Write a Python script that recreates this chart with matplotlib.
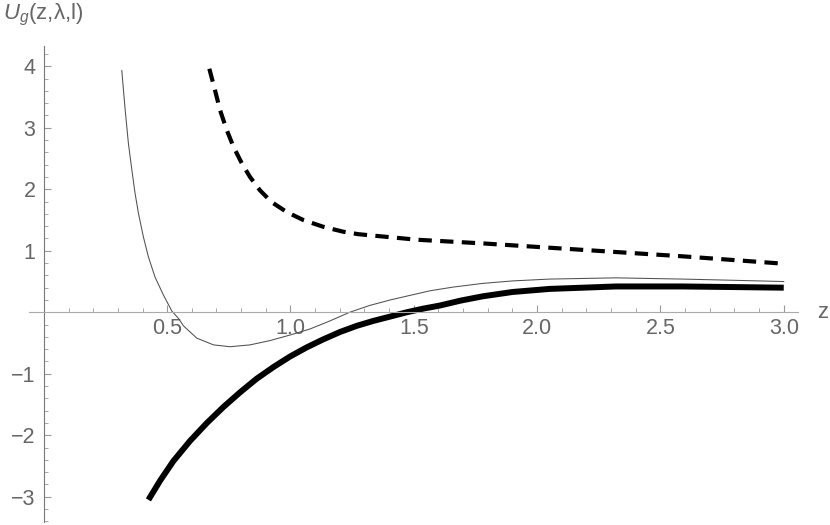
import numpy as np
import matplotlib.pyplot as plt
from matplotlib.ticker import FixedLocator, MultipleLocator

plt.rcParams['font.family'] = ['Liberation Sans', 'DejaVu Sans']
plt.rcParams['mathtext.fontset'] = 'custom'
plt.rcParams['mathtext.rm'] = 'Liberation Sans'
plt.rcParams['mathtext.it'] = 'Liberation Sans:italic'

# curves
z_thin = [0.316, 0.330, 0.343, 0.357, 0.370, 0.384, 0.404, 0.424, 0.451, 0.485,
          0.519, 0.546, 0.566, 0.62, 0.688, 0.755, 0.836, 0.917, 0.998, 1.08,
          1.16, 1.24, 1.32, 1.404, 1.49, 1.566, 1.66, 1.78, 1.9, 2.05, 2.32,
          2.59, 2.8, 3.0]
u_thin = [3.93, 3.28, 2.74, 2.31, 1.93, 1.60, 1.22, 0.90, 0.57, 0.28,
          0.02, -0.10, -0.22, -0.42, -0.53, -0.56, -0.53, -0.46, -0.37, -0.27,
          -0.14, 0.0, 0.11, 0.20, 0.28, 0.35, 0.41, 0.47, 0.51, 0.54, 0.56,
          0.54, 0.52, 0.50]

z_thick = [0.424, 0.471, 0.525, 0.593, 0.661, 0.728, 0.796, 0.863, 0.931,
           0.998, 1.066, 1.133, 1.201, 1.269, 1.336, 1.404, 1.471, 1.539,
           1.606, 1.69, 1.78, 1.9, 2.05, 2.32, 2.59, 2.8, 3.0]
u_thick = [-3.05, -2.74, -2.42, -2.09, -1.80, -1.54, -1.30, -1.08, -0.89,
           -0.72, -0.57, -0.44, -0.32, -0.22, -0.14, -0.07, 0.0, 0.06,
           0.11, 0.19, 0.26, 0.33, 0.38, 0.42, 0.42, 0.41, 0.40]

z_dash = [0.671, 0.694, 0.715, 0.742, 0.769, 0.803, 0.836, 0.877, 0.924,
          0.985, 1.052, 1.133, 1.214, 1.275, 1.512, 1.78, 2.05, 2.32, 2.59, 3.0]
u_dash = [3.96, 3.61, 3.28, 2.96, 2.69, 2.42, 2.20, 1.98, 1.79,
          1.63, 1.50, 1.39, 1.31, 1.27, 1.18, 1.12, 1.05, 0.98, 0.91, 0.79]

xticks = [0.5, 1.0, 1.5, 2.0, 2.5, 3.0]
yticks = [-3, -2, -1, 1, 2, 3, 4]

fig = plt.figure(figsize=(8.3, 5.25), dpi=100)
ax = fig.add_axes([0.035, 0.0057, 0.9265, 0.9067])

ax.plot(z_thin, u_thin, color='#505050', lw=0.75)
ax.plot(z_thick, u_thick, color='black', lw=4.3, solid_capstyle='butt',
        solid_joinstyle='round')
ax.plot(z_dash, u_dash, color='black', lw=3, dashes=(3.2, 2), dash_capstyle='butt')

ax.set_xlim(-0.06, 3.058)
ax.set_ylim(-3.41, 4.33)

for s in ['top', 'right']:
    ax.spines[s].set_visible(False)
ax.spines['left'].set_position(('data', 0))
ax.spines['bottom'].set_position(('data', 0))
ax.spines['left'].set_color('#777777')
ax.spines['bottom'].set_color('#aaaaaa')

ax.xaxis.set_major_locator(FixedLocator(xticks))
ax.yaxis.set_major_locator(FixedLocator(yticks))
ax.xaxis.set_minor_locator(MultipleLocator(0.1))
ax.yaxis.set_minor_locator(MultipleLocator(0.2))
ax.set_xticklabels(['%.1f' % t for t in xticks])
ax.set_yticklabels(['\u2212%d' % -t if t < 0 else '%d' % t for t in yticks])

ax.tick_params(which='both', direction='in', color='#999999', labelcolor='#666666',
               labelsize=15.5)
ax.tick_params(which='major', length=5, width=0.8)
ax.tick_params(which='minor', length=3, width=0.6)
ax.tick_params(axis='x', pad=4)
ax.tick_params(axis='y', pad=6)

# axis labels placed in pixel coords like the original
fig.text(828, 525 - 312, 'z', transform=None, fontsize=16, color='#666666',
         ha='right', va='center')
fig.text(3, 510, r'$U_g$(z,λ,l)', transform=None, fontsize=16,
         color='#666666', ha='left', va='center')

fig.savefig('out.png', dpi=100)
